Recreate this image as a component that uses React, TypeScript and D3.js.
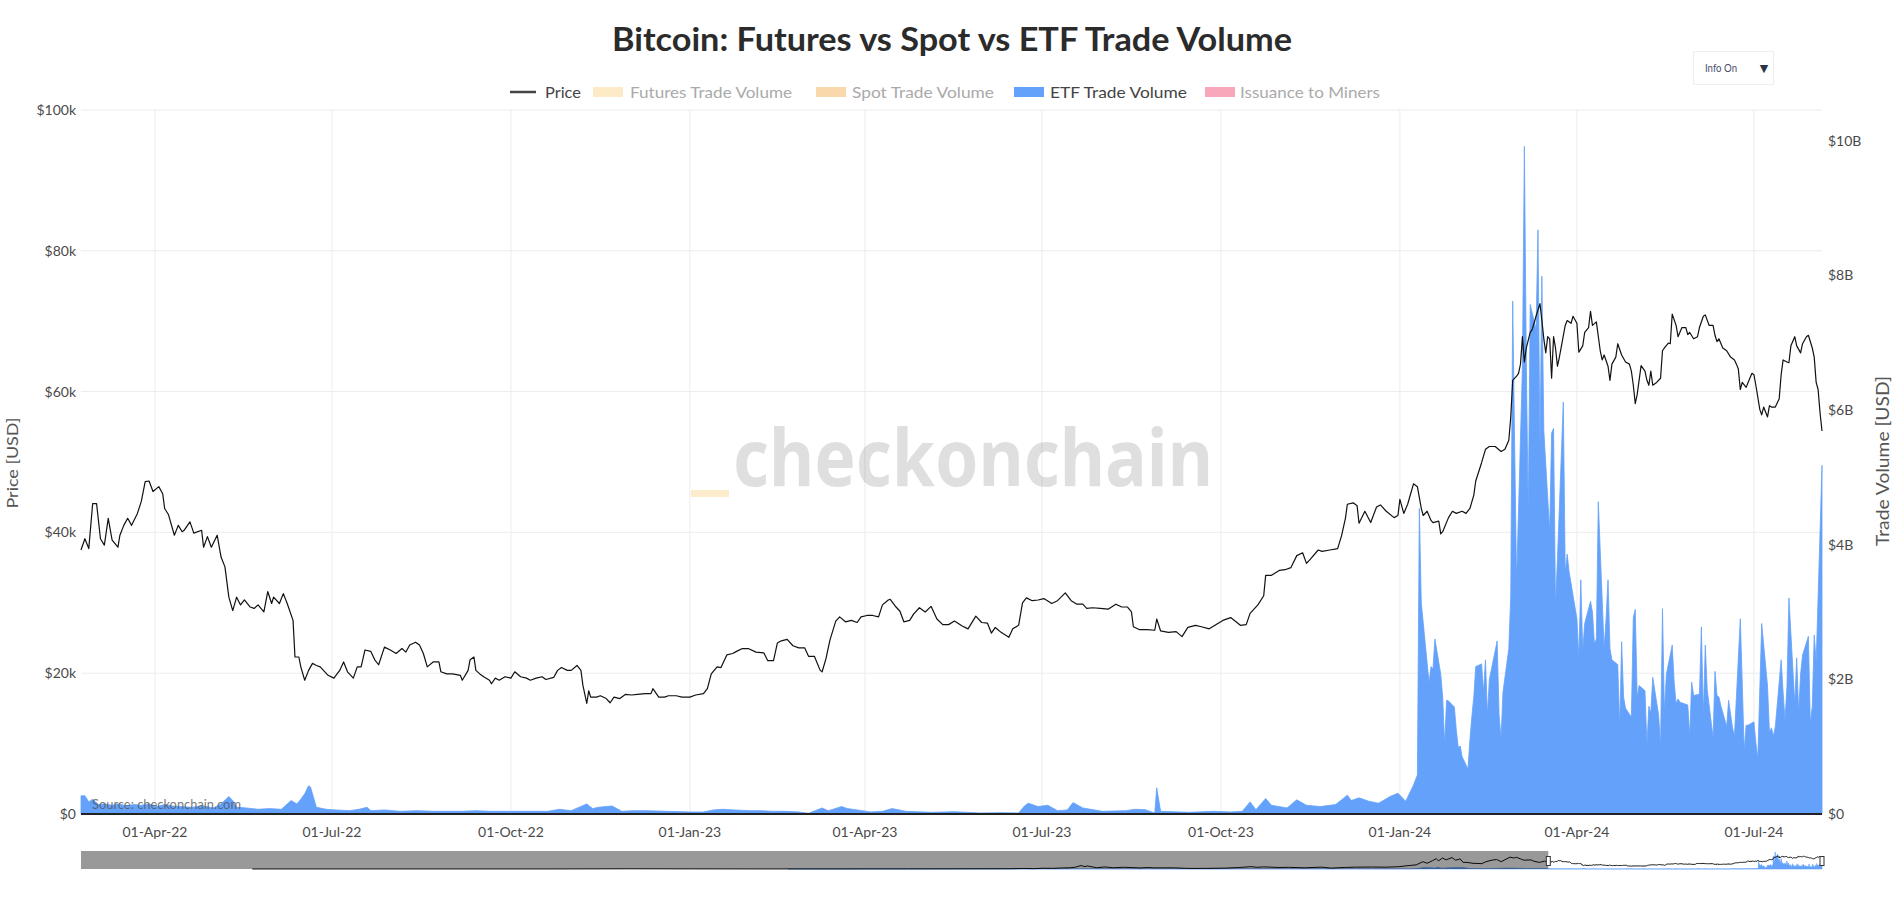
import React from "react";
import * as d3 from "d3";

// ---------------- DATA ----------------
const title = "Bitcoin: Futures vs Spot vs ETF Trade Volume";
const legendItems = ["Price", "Futures Trade Volume", "Spot Trade Volume", "ETF Trade Volume", "Issuance to Miners"];
const xDomain = ["2022-02-22", "2024-08-05"];
const sliderDomain = ["2009-01-03", "2024-08-05"];
const sliderWindowStart = "2022-02-22";
const xTickDates = ["2022-04-01", "2022-07-01", "2022-10-01", "2023-01-01", "2023-04-01", "2023-07-01", "2023-10-01", "2024-01-01", "2024-04-01", "2024-07-01"];
const priceTicks = [0, 20000, 40000, 60000, 80000, 100000];
const priceTickLabels = ["$0", "$20k", "$40k", "$60k", "$80k", "$100k"];
const volTicks = [0, 2e9, 4e9, 6e9, 8e9, 10e9];
const volTickLabels = ["$0", "$2B", "$4B", "$6B", "$8B", "$10B"];
const priceMax = 100000;
const volMax = 10.46e9;

// BTC price, $k
const pricePoints: [string, number][] = [
  ["2022-02-22",37.5],["2022-02-24",39.1],["2022-02-26",37.7],["2022-02-28",44.1],["2022-03-02",44.1],["2022-03-04",39.1],["2022-03-06",38.2],["2022-03-08",42.0],["2022-03-10",38.9],["2022-03-13",37.9],["2022-03-14",39.6],["2022-03-16",41.0],["2022-03-18",42.0],["2022-03-20",41.0],["2022-03-23",42.7],["2022-03-25",44.4],["2022-03-27",47.2],["2022-03-29",47.3],["2022-03-31",45.8],["2022-04-03",46.5],["2022-04-05",45.5],["2022-04-06",43.4],["2022-04-08",42.5],["2022-04-11",39.6],["2022-04-13",41.0],["2022-04-15",40.1],["2022-04-16",40.3],["2022-04-19",41.5],["2022-04-21",39.9],["2022-04-25",40.3],["2022-04-26",37.9],["2022-04-28",39.4],["2022-04-30",37.9],["2022-05-03",39.6],["2022-05-05",36.5],["2022-05-07",35.1],["2022-05-09",30.8],["2022-05-11",28.9],["2022-05-13",30.8],["2022-05-15",29.7],["2022-05-17",30.4],["2022-05-20",29.4],["2022-05-22",29.2],["2022-05-24",29.7],["2022-05-27",28.7],["2022-05-29",31.6],["2022-05-31",29.9],["2022-06-01",30.8],["2022-06-04",29.9],["2022-06-06",31.3],["2022-06-08",29.9],["2022-06-11",27.5],["2022-06-12",22.3],["2022-06-14",22.3],["2022-06-15",20.9],["2022-06-17",19.0],["2022-06-19",20.4],["2022-06-21",21.4],["2022-06-23",21.1],["2022-06-25",20.9],["2022-06-29",19.7],["2022-07-02",19.3],["2022-07-05",20.4],["2022-07-07",21.6],["2022-07-09",20.2],["2022-07-12",19.3],["2022-07-14",20.9],["2022-07-16",20.9],["2022-07-18",23.3],["2022-07-21",23.1],["2022-07-23",21.9],["2022-07-25",21.2],["2022-07-28",23.7],["2022-07-31",23.3],["2022-08-03",22.8],["2022-08-06",23.5],["2022-08-08",23.0],["2022-08-10",24.0],["2022-08-13",24.4],["2022-08-15",24.0],["2022-08-17",22.8],["2022-08-19",20.9],["2022-08-22",21.6],["2022-08-25",21.6],["2022-08-26",20.2],["2022-08-29",19.9],["2022-09-01",19.9],["2022-09-05",19.7],["2022-09-06",19.0],["2022-09-09",20.4],["2022-09-10",21.9],["2022-09-12",22.3],["2022-09-13",20.4],["2022-09-15",19.9],["2022-09-17",19.5],["2022-09-20",19.0],["2022-09-21",18.5],["2022-09-23",19.3],["2022-09-25",19.0],["2022-09-28",19.5],["2022-10-01",19.3],["2022-10-03",20.2],["2022-10-06",19.5],["2022-10-09",19.3],["2022-10-11",19.0],["2022-10-14",19.3],["2022-10-17",19.5],["2022-10-19",19.1],["2022-10-23",19.4],["2022-10-25",20.4],["2022-10-27",20.8],["2022-10-30",20.4],["2022-11-01",20.4],["2022-11-04",21.1],["2022-11-06",20.4],["2022-11-07",18.3],["2022-11-09",15.7],["2022-11-10",17.5],["2022-11-11",16.6],["2022-11-14",16.6],["2022-11-16",16.8],["2022-11-19",16.4],["2022-11-21",15.8],["2022-11-23",16.6],["2022-11-26",16.4],["2022-11-29",17.0],["2022-12-02",16.9],["2022-12-05",17.0],["2022-12-09",17.1],["2022-12-12",17.1],["2022-12-13",17.8],["2022-12-16",16.6],["2022-12-19",16.6],["2022-12-21",16.8],["2022-12-25",16.8],["2022-12-28",16.6],
  ["2023-01-01",16.6],["2023-01-04",16.9],["2023-01-08",17.1],["2023-01-10",17.8],["2023-01-12",19.9],["2023-01-15",20.9],["2023-01-17",20.8],["2023-01-20",22.6],["2023-01-23",22.8],["2023-01-25",23.1],["2023-01-28",23.5],["2023-01-31",23.5],["2023-02-04",23.0],["2023-02-08",22.9],["2023-02-10",21.8],["2023-02-13",21.8],["2023-02-15",24.3],["2023-02-17",24.6],["2023-02-20",24.8],["2023-02-23",23.9],["2023-02-26",23.6],["2023-03-01",23.6],["2023-03-03",22.4],["2023-03-06",22.4],["2023-03-09",20.4],["2023-03-10",20.2],["2023-03-12",22.1],["2023-03-14",24.7],["2023-03-17",27.4],["2023-03-19",28.0],["2023-03-22",27.3],["2023-03-25",27.5],["2023-03-28",27.2],["2023-03-30",28.0],["2023-04-02",28.2],["2023-04-05",28.2],["2023-04-08",28.0],["2023-04-10",29.7],["2023-04-13",30.4],["2023-04-14",30.5],["2023-04-17",29.4],["2023-04-19",28.8],["2023-04-21",27.3],["2023-04-24",27.5],["2023-04-26",28.4],["2023-04-29",29.3],["2023-05-02",28.7],["2023-05-05",29.5],["2023-05-08",27.7],["2023-05-11",26.9],["2023-05-14",26.9],["2023-05-17",27.4],["2023-05-21",26.7],["2023-05-24",26.3],["2023-05-28",28.1],["2023-05-31",27.2],["2023-06-03",27.1],["2023-06-05",25.7],["2023-06-07",26.5],["2023-06-10",25.8],["2023-06-14",25.1],["2023-06-16",26.3],["2023-06-19",26.8],["2023-06-21",30.0],["2023-06-23",30.7],["2023-06-26",30.3],["2023-06-29",30.4],["2023-07-02",30.6],["2023-07-06",29.9],["2023-07-09",30.3],["2023-07-13",31.4],["2023-07-16",30.3],["2023-07-19",29.8],["2023-07-22",29.8],["2023-07-24",29.2],["2023-07-27",29.3],["2023-07-31",29.2],["2023-08-04",29.1],["2023-08-08",29.8],["2023-08-11",29.4],["2023-08-14",29.4],["2023-08-16",28.7],["2023-08-17",26.6],["2023-08-20",26.2],["2023-08-24",26.2],["2023-08-28",26.1],["2023-08-29",27.7],["2023-08-31",26.0],["2023-09-04",25.8],["2023-09-08",25.9],["2023-09-11",25.2],["2023-09-14",26.5],["2023-09-18",26.8],["2023-09-21",26.6],["2023-09-25",26.3],["2023-09-29",27.0],["2023-10-02",27.5],["2023-10-06",27.9],["2023-10-11",26.8],["2023-10-14",26.9],["2023-10-16",28.5],["2023-10-20",29.7],["2023-10-23",31.0],["2023-10-24",33.9],["2023-10-27",33.9],["2023-10-31",34.6],["2023-11-03",34.7],["2023-11-06",35.0],["2023-11-09",36.7],["2023-11-12",37.1],["2023-11-14",35.6],["2023-11-16",36.2],["2023-11-20",37.5],["2023-11-22",37.3],["2023-11-26",37.5],["2023-11-30",37.7],["2023-12-02",39.5],["2023-12-04",42.0],["2023-12-05",44.0],["2023-12-08",44.2],["2023-12-10",43.8],["2023-12-11",41.3],["2023-12-14",43.0],["2023-12-17",41.4],["2023-12-20",43.6],["2023-12-22",43.9],["2023-12-25",43.0],["2023-12-29",42.1],["2023-12-31",42.4],
  ["2024-01-01",44.7],["2024-01-03",42.7],["2024-01-05",44.0],["2024-01-08",46.9],["2024-01-10",46.5],["2024-01-12",43.4],["2024-01-13",42.4],["2024-01-15",43.0],["2024-01-17",41.7],["2024-01-18",41.4],["2024-01-21",41.6],["2024-01-22",39.8],["2024-01-23",40.1],["2024-01-26",42.1],["2024-01-28",43.0],["2024-01-30",42.7],["2024-02-02",43.0],["2024-02-04",42.7],["2024-02-06",43.4],["2024-02-08",45.3],["2024-02-09",47.3],["2024-02-12",49.9],["2024-02-14",51.8],["2024-02-16",52.2],["2024-02-19",52.2],["2024-02-22",51.5],["2024-02-24",51.8],["2024-02-26",53.1],["2024-02-27",56.4],["2024-02-28",61.6],["2024-03-01",62.2],["2024-03-02",62.6],["2024-03-03",63.9],["2024-03-04",67.8],["2024-03-05",64.2],["2024-03-06",66.2],["2024-03-08",68.4],["2024-03-09",68.8],["2024-03-11",70.7],["2024-03-13",72.5],["2024-03-14",70.1],["2024-03-15",67.5],["2024-03-16",65.5],["2024-03-17",67.8],["2024-03-18",67.5],["2024-03-19",61.9],["2024-03-20",67.8],["2024-03-21",66.2],["2024-03-22",63.6],["2024-03-23",64.9],["2024-03-26",69.4],["2024-03-27",70.1],["2024-03-29",69.7],["2024-03-30",70.7],["2024-04-01",69.7],["2024-04-02",65.6],["2024-04-04",66.5],["2024-04-05",68.4],["2024-04-07",69.1],["2024-04-08",71.4],["2024-04-09",69.4],["2024-04-11",69.9],["2024-04-13",65.8],["2024-04-14",64.5],["2024-04-15",65.2],["2024-04-17",63.6],["2024-04-18",61.6],["2024-04-19",63.9],["2024-04-21",64.9],["2024-04-22",66.8],["2024-04-24",65.2],["2024-04-26",64.2],["2024-04-28",63.9],["2024-04-29",62.9],["2024-04-30",60.9],["2024-05-01",58.3],["2024-05-02",59.6],["2024-05-04",63.7],["2024-05-06",62.9],["2024-05-07",61.6],["2024-05-08",60.9],["2024-05-09",62.9],["2024-05-10",60.9],["2024-05-12",61.3],["2024-05-14",61.9],["2024-05-15",65.8],["2024-05-16",66.2],["2024-05-18",66.9],["2024-05-19",66.8],["2024-05-20",71.0],["2024-05-22",69.4],["2024-05-23",67.8],["2024-05-25",69.1],["2024-05-27",69.1],["2024-05-28",68.1],["2024-05-29",68.4],["2024-05-31",67.5],["2024-06-02",67.8],["2024-06-03",69.1],["2024-06-05",70.7],["2024-06-06",70.9],["2024-06-08",69.4],["2024-06-10",69.4],["2024-06-11",68.0],["2024-06-12",67.1],["2024-06-13",67.5],["2024-06-15",66.2],["2024-06-17",65.8],["2024-06-19",64.9],["2024-06-21",64.5],["2024-06-22",63.9],["2024-06-23",63.2],["2024-06-24",60.3],["2024-06-25",61.3],["2024-06-27",60.6],["2024-06-28",61.3],["2024-06-30",62.6],["2024-07-01",62.4],["2024-07-02",60.9],["2024-07-04",57.5],["2024-07-05",56.7],["2024-07-06",57.8],["2024-07-08",56.4],["2024-07-09",58.0],["2024-07-10",57.8],["2024-07-12",57.8],["2024-07-14",59.0],["2024-07-15",62.4],["2024-07-16",64.5],["2024-07-18",64.2],["2024-07-19",64.1],["2024-07-20",66.5],["2024-07-22",67.8],["2024-07-23",66.5],["2024-07-25",65.5],["2024-07-26",66.8],["2024-07-28",67.8],["2024-07-29",68.0],["2024-07-31",66.2],["2024-08-01",64.9],["2024-08-02",61.3],["2024-08-03",60.3],["2024-08-04",57.0],["2024-08-05",54.4]
];

// ETF trade volume, $B
const etfVolumePoints: [string, number][] = [
  ["2022-02-22",0.27],["2022-02-24",0.27],["2022-02-26",0.18],["2022-02-28",0.22],["2022-03-03",0.14],["2022-03-06",0.15],["2022-03-10",0.13],["2022-03-14",0.15],["2022-03-17",0.12],["2022-03-21",0.14],["2022-03-25",0.13],["2022-03-29",0.15],["2022-04-02",0.11],["2022-04-06",0.14],["2022-04-10",0.12],["2022-04-14",0.11],["2022-04-20",0.10],["2022-04-26",0.12],["2022-05-01",0.09],["2022-05-05",0.15],["2022-05-09",0.26],["2022-05-11",0.2],["2022-05-13",0.10],["2022-05-18",0.09],["2022-05-24",0.07],["2022-05-30",0.08],["2022-06-05",0.07],["2022-06-10",0.2],["2022-06-13",0.15],["2022-06-15",0.22],["2022-06-17",0.30],["2022-06-19",0.42],["2022-06-20",0.40],["2022-06-23",0.10],["2022-06-28",0.07],["2022-07-03",0.06],["2022-07-10",0.05],["2022-07-15",0.07],["2022-07-19",0.10],["2022-07-21",0.05],["2022-07-28",0.06],["2022-08-05",0.04],["2022-08-14",0.05],["2022-08-22",0.04],["2022-09-01",0.04],["2022-09-06",0.04],["2022-09-13",0.05],["2022-09-20",0.04],["2022-09-29",0.04],["2022-10-10",0.04],["2022-10-20",0.04],["2022-10-26",0.07],["2022-11-01",0.05],["2022-11-09",0.15],["2022-11-12",0.08],["2022-11-15",0.10],["2022-11-22",0.12],["2022-11-27",0.04],["2022-12-03",0.05],["2022-12-09",0.05],["2022-12-20",0.04],
  ["2023-01-01",0.03],["2023-01-08",0.03],["2023-01-13",0.06],["2023-01-18",0.07],["2023-01-24",0.06],["2023-02-01",0.05],["2023-02-06",0.05],["2023-02-12",0.04],["2023-02-19",0.04],["2023-02-26",0.03],["2023-03-03",0.01],["2023-03-10",0.09],["2023-03-13",0.05],["2023-03-15",0.065],["2023-03-20",0.11],["2023-03-23",0.08],["2023-03-27",0.065],["2023-04-04",0.03],["2023-04-10",0.04],["2023-04-15",0.08],["2023-04-22",0.04],["2023-05-05",0.025],["2023-05-12",0.03],["2023-05-17",0.035],["2023-05-30",0.015],["2023-06-10",0.02],["2023-06-19",0.015],["2023-06-22",0.12],["2023-06-24",0.16],["2023-06-29",0.11],["2023-07-04",0.13],["2023-07-09",0.05],["2023-07-14",0.06],["2023-07-17",0.17],["2023-07-22",0.09],["2023-08-01",0.04],["2023-08-13",0.05],["2023-08-18",0.07],["2023-08-23",0.065],["2023-08-28",0.015],["2023-08-29",0.39],["2023-08-31",0.04],["2023-09-10",0.03],["2023-09-15",0.025],["2023-09-27",0.04],["2023-10-06",0.03],["2023-10-12",0.04],["2023-10-16",0.18],["2023-10-19",0.065],["2023-10-24",0.23],["2023-10-27",0.13],["2023-11-04",0.09],["2023-11-09",0.21],["2023-11-14",0.13],["2023-11-21",0.11],["2023-11-29",0.14],["2023-12-05",0.28],["2023-12-07",0.2],["2023-12-11",0.24],["2023-12-16",0.19],["2023-12-21",0.16],["2023-12-27",0.26],["2023-12-31",0.31],["2024-01-04",0.19],["2024-01-08",0.43],["2024-01-10",0.58],
  ["2024-01-11",4.54],["2024-01-12",3.14],["2024-01-16",1.95],["2024-01-17",2.19],["2024-01-18",2.15],["2024-01-19",2.60],["2024-01-22",2.08],["2024-01-23",1.74],["2024-01-24",1.03],["2024-01-25",1.69],["2024-01-26",1.68],["2024-01-29",1.59],["2024-01-30",1.25],["2024-01-31",0.99],["2024-02-01",1.01],["2024-02-02",0.85],["2024-02-05",0.67],["2024-02-06",1.10],["2024-02-07",1.45],["2024-02-08",1.74],["2024-02-09",2.19],["2024-02-12",2.23],["2024-02-13",1.81],["2024-02-14",2.29],["2024-02-15",1.47],["2024-02-16",2.0],["2024-02-20",2.57],["2024-02-21",1.47],["2024-02-22",1.12],["2024-02-23",1.81],["2024-02-26",2.46],["2024-02-27",3.25],["2024-02-28",7.62],["2024-02-29",5.49],["2024-03-01",3.45],["2024-03-04",6.65],["2024-03-05",9.92],["2024-03-06",6.68],["2024-03-07",4.47],["2024-03-08",7.57],["2024-03-11",7.2],["2024-03-12",8.68],["2024-03-13",5.44],["2024-03-14",7.99],["2024-03-15",5.69],["2024-03-18",4.2],["2024-03-19",5.66],["2024-03-20",5.73],["2024-03-21",3.1],["2024-03-22",3.79],["2024-03-25",6.12],["2024-03-26",3.58],["2024-03-27",3.86],["2024-03-28",3.6],["2024-04-01",2.9],["2024-04-02",2.32],["2024-04-03",3.48],["2024-04-04",2.43],["2024-04-05",2.83],["2024-04-08",3.16],["2024-04-09",3.0],["2024-04-10",2.53],["2024-04-11",2.6],["2024-04-12",4.64],["2024-04-15",2.46],["2024-04-16",2.9],["2024-04-17",3.48],["2024-04-18",2.46],["2024-04-19",2.29],["2024-04-22",2.22],["2024-04-23",1.3],["2024-04-24",2.56],["2024-04-25",1.74],["2024-04-26",1.57],["2024-04-29",1.44],["2024-04-30",2.92],["2024-05-01",3.04],["2024-05-02",1.74],["2024-05-03",1.91],["2024-05-06",1.83],["2024-05-07",1.03],["2024-05-08",1.6],["2024-05-09",1.5],["2024-05-10",2.03],["2024-05-13",1.47],["2024-05-14",1.01],["2024-05-15",3.05],["2024-05-16",1.51],["2024-05-17",2.08],["2024-05-20",2.51],["2024-05-21",1.96],["2024-05-22",1.64],["2024-05-23",1.71],["2024-05-24",1.66],["2024-05-28",1.62],["2024-05-29",1.16],["2024-05-30",1.96],["2024-05-31",1.76],["2024-06-03",1.78],["2024-06-04",2.78],["2024-06-05",1.47],["2024-06-06",2.51],["2024-06-07",1.85],["2024-06-10",1.13],["2024-06-11",2.12],["2024-06-12",1.76],["2024-06-13",1.74],["2024-06-14",1.61],["2024-06-17",1.30],["2024-06-18",1.69],["2024-06-20",1.28],["2024-06-21",1.16],["2024-06-24",2.9],["2024-06-25",1.95],["2024-06-26",0.94],["2024-06-27",1.32],["2024-06-28",1.32],["2024-07-01",1.37],["2024-07-02",1.06],["2024-07-03",0.82],["2024-07-05",2.83],["2024-07-08",1.9],["2024-07-09",1.21],["2024-07-10",1.28],["2024-07-11",1.16],["2024-07-12",1.30],["2024-07-15",2.29],["2024-07-16",1.81],["2024-07-17",1.40],["2024-07-18",1.9],["2024-07-19",3.21],["2024-07-22",1.64],["2024-07-23",2.32],["2024-07-24",1.51],["2024-07-25",2.08],["2024-07-26",2.36],["2024-07-29",2.64],["2024-07-30",1.35],["2024-07-31",1.6],["2024-08-01",2.66],["2024-08-02",2.25],["2024-08-05",5.18]
];

// Full-history price shown only in the range slider, $k
const historyPricePoints: [string, number][] = [
  ["2010-07-17",0.05],["2011-06-08",0.03],["2013-04-01",0.1],["2013-12-04",1.1],["2014-06-01",0.6],["2015-01-14",0.2],["2016-06-01",0.5],["2017-01-01",1.0],["2017-03-01",1.2],["2017-05-01",1.4],["2017-06-10",2.9],["2017-07-15",1.9],["2017-08-15",4.2],["2017-09-15",3.6],["2017-10-20",6.0],["2017-11-10",6.6],["2017-11-28",9.8],["2017-12-17",19.3],["2017-12-30",13.0],["2018-01-06",17.2],["2018-02-06",6.9],["2018-03-05",11.5],["2018-04-01",6.8],["2018-05-05",9.8],["2018-06-28",5.9],["2018-07-25",8.2],["2018-08-14",6.2],["2018-09-20",6.4],["2018-10-15",6.5],["2018-11-25",3.8],["2018-12-15",3.2],["2019-02-01",3.5],["2019-04-02",4.9],["2019-05-15",8.0],["2019-06-26",12.9],["2019-07-16",9.4],["2019-08-06",11.8],["2019-09-25",8.4],["2019-10-26",9.3],["2019-12-17",6.6],["2020-02-13",10.3],["2020-03-12",4.9],["2020-04-30",8.7],["2020-06-01",10.2],["2020-07-27",11.0],["2020-09-08",10.1],["2020-10-21",12.8],["2020-11-24",19.2],["2020-12-17",22.8],["2021-01-08",40.6],["2021-01-22",32.0],["2021-02-08",46.0],["2021-02-21",57.5],["2021-02-28",45.0],["2021-03-13",61.0],["2021-03-25",51.0],["2021-04-13",63.5],["2021-04-25",49.0],["2021-05-10",56.0],["2021-05-19",37.0],["2021-06-01",36.6],["2021-06-21",31.6],["2021-07-20",29.8],["2021-08-01",39.9],["2021-08-22",49.3],["2021-09-06",52.7],["2021-09-21",40.5],["2021-10-20",66.0],["2021-11-01",61.0],["2021-11-10",65.0],["2021-11-26",54.0],["2021-12-04",49.0],["2021-12-27",50.6],["2022-01-05",43.5],["2022-01-24",36.6],["2022-02-10",44.0]
];
// Full-history ETF volume shown only in the range slider, $B
const historyVolumePoints: [string, number][] = [
  ["2015-05-04",0.001],["2020-12-01",0.05],["2020-12-21",0.25],["2021-01-11",0.9],["2021-02-19",0.6],["2021-02-23",1.1],["2021-03-10",0.5],["2021-04-14",0.8],["2021-05-19",0.9],["2021-06-10",0.3],["2021-08-01",0.2],["2021-10-19",0.6],["2021-11-10",0.5],["2021-12-10",0.3],["2022-01-24",0.35],["2022-02-21",0.25]
];

// ---------------- CHART ----------------
const FONT = "Lato, 'Open Sans', 'DejaVu Sans', sans-serif";
const parse = d3.utcParse("%Y-%m-%d");
const fmt = d3.utcFormat("%d-%b-%y");

export default function App() {
  const W = 1901, H = 899;
  const L = 81, R = 1822, T = 110, B = 814;
  const sTop = 851, sBot = 869;

  const x = d3.scaleUtc().domain(xDomain.map((d) => parse(d) as Date)).range([L, R]);
  const yP = d3.scaleLinear().domain([0, priceMax]).range([B, T]);
  const yV = d3.scaleLinear().domain([0, volMax]).range([B, T]);

  const xs = d3.scaleUtc().domain(sliderDomain.map((d) => parse(d) as Date)).range([L, R]);
  const ysP = d3.scaleLinear().domain([0, priceMax]).range([sBot, sTop]);
  const ysV = d3.scaleLinear().domain([0, volMax]).range([sBot, sTop]);

  const price = pricePoints.map(([d, v]) => ({ date: parse(d) as Date, v: v * 1000 }));
  const vol = etfVolumePoints.map(([d, v]) => ({ date: parse(d) as Date, v: v * 1e9 }));
  const histP = historyPricePoints.map(([d, v]) => ({ date: parse(d) as Date, v: v * 1000 })).concat(price);
  const histV = historyVolumePoints.map(([d, v]) => ({ date: parse(d) as Date, v: v * 1e9 })).concat(vol);

  const priceLine = d3.line<any>().x((d) => x(d.date)).y((d) => yP(d.v))(price) || "";
  const volArea = d3.area<any>().x((d) => x(d.date)).y0(yV(0)).y1((d) => yV(d.v))(vol) || "";
  const miniLine = d3.line<any>().x((d) => xs(d.date)).y((d) => ysP(d.v))(histP) || "";
  const miniArea = d3.area<any>().x((d) => xs(d.date)).y0(ysV(0)).y1((d) => ysV(d.v))(histV) || "";
  const winX = xs(parse(sliderWindowStart) as Date);

  const tickColor = "#4a4a4a";
  const grid = "#ececec";
  const blue = "#63a1fa";

  const legendLayout = [
    { sx: 510, tx: 545, tw: 36, kind: "line", color: "#444", on: true },
    { sx: 593, tx: 630, tw: 162, kind: "rect", color: "#fdeac6", on: false },
    { sx: 816, tx: 852, tw: 142, kind: "rect", color: "#f9d8ac", on: false },
    { sx: 1014, tx: 1050, tw: 137, kind: "rect", color: blue, on: true },
    { sx: 1205, tx: 1240, tw: 140, kind: "rect", color: "#f8a7ba", on: false },
  ];
  const legendY = 92;

  return (
    <svg width={W} height={H} style={{ position: "absolute", left: 0, top: 0, display: "block", background: "#fff" }} fontFamily={FONT}>
      <rect x={0} y={0} width={W} height={H} fill="#fff" />
      <text x={952} y={51} textAnchor="middle" fontSize={32} fontWeight={700} fill="#2b2b2b" textLength={680} lengthAdjust="spacingAndGlyphs">{title}</text>

      <rect x={1693.5} y={51.5} width={80} height={33} fill="#fff" stroke="#eeeeee" />
      <text x={1705} y={72} fontSize={11} fill="#4a4f6a" textLength={32} lengthAdjust="spacingAndGlyphs">Info On</text>
      <text x={1764} y={72} fontSize={11} fill="#2a3346" textAnchor="middle">▼</text>

      {legendLayout.map((it, i) => (
        <g key={i}>
          {it.kind === "line" ? (
            <line x1={it.sx} x2={it.sx + 26} y1={legendY} y2={legendY} stroke={it.color} strokeWidth={2.5} />
          ) : (
            <rect x={it.sx} y={legendY - 5} width={30} height={10} fill={it.color} />
          )}
          <text x={it.tx} y={legendY + 5.5} fontSize={16} fill={it.on ? "#444" : "#aaaaaa"} textLength={it.tw} lengthAdjust="spacingAndGlyphs">{legendItems[i]}</text>
        </g>
      ))}

      {xTickDates.map((d) => (
        <line key={d} x1={x(parse(d) as Date)} x2={x(parse(d) as Date)} y1={T} y2={B} stroke={grid} strokeWidth={1} />
      ))}
      {priceTicks.slice(1).map((t) => (
        <line key={t} x1={L} x2={R} y1={yP(t)} y2={yP(t)} stroke={grid} strokeWidth={1} />
      ))}

      <rect x={691} y={490} width={38} height={7} fill="#fdeccb" />
      <text x={733} y={486} fontFamily="'Noto Sans', 'Open Sans', sans-serif" fontWeight={700} fontSize={78} fill="#000" fillOpacity={0.125} textLength={480} lengthAdjust="spacingAndGlyphs">checkonchain</text>

      <path d={volArea} fill={blue} stroke={blue} strokeWidth={0.8} />
      <path d={priceLine} fill="none" stroke="#111" strokeWidth={1.2} strokeLinejoin="round" />

      <text x={92} y={809} fontSize={13.5} fill="#555" fillOpacity={0.8} textLength={149} lengthAdjust="spacingAndGlyphs">Source: checkonchain.com</text>

      <line x1={L} x2={R} y1={B} y2={B} stroke="#222" strokeWidth={2} />

      {priceTicks.map((t, i) => (
        <text key={t} x={76} y={yP(t)} dy="0.35em" textAnchor="end" fontSize={14} fill={tickColor}>{priceTickLabels[i]}</text>
      ))}
      {volTicks.map((t, i) => (
        <text key={t} x={1828} y={yV(t)} dy="0.35em" textAnchor="start" fontSize={14} fill={tickColor}>{volTickLabels[i]}</text>
      ))}
      {xTickDates.map((d) => (
        <text key={d} x={x(parse(d) as Date)} y={832} dy="0.35em" textAnchor="middle" fontSize={14} fill={tickColor}>{fmt(parse(d) as Date)}</text>
      ))}

      <text transform="translate(18,463) rotate(-90)" textAnchor="middle" fontSize={16} fill="#555" textLength={91} lengthAdjust="spacingAndGlyphs">Price [USD]</text>
      <text transform="translate(1889,461) rotate(-90)" textAnchor="middle" fontSize={17} fill="#555" textLength={170} lengthAdjust="spacingAndGlyphs">Trade Volume [USD]</text>

      <rect x={L} y={sTop} width={R - L} height={sBot - sTop} fill="#fff" />
      <path d={miniArea} fill={blue} stroke={blue} strokeWidth={0.6} />
      <path d={miniLine} fill="none" stroke="#111" strokeWidth={1} />
      <rect x={L} y={sTop} width={winX - L} height={sBot - sTop} fill="#000" fillOpacity={0.4} />
      <rect x={winX - 2} y={856.5} width={4} height={9} fill="#fff" stroke="#333" strokeWidth={1} />
      <rect x={R - 2} y={856.5} width={4} height={9} fill="#fff" stroke="#333" strokeWidth={1} />
    </svg>
  );
}
